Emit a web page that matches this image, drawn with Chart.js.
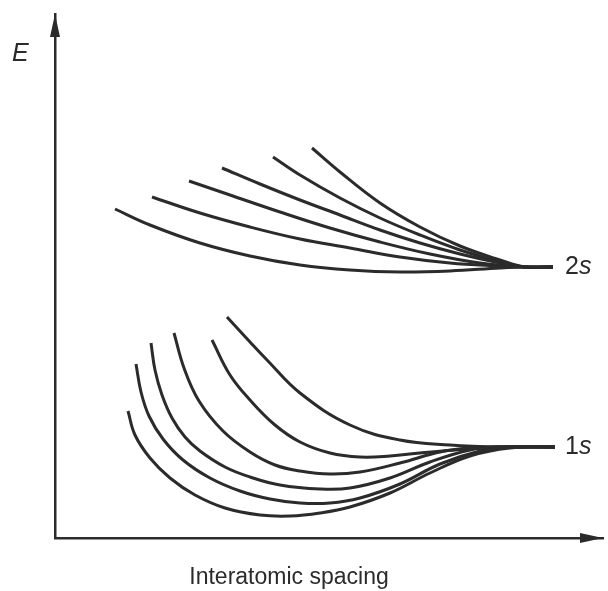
<!DOCTYPE html>
<html>
<head>
<meta charset="utf-8">
<script src="https://cdn.jsdelivr.net/npm/chart.js@4/dist/chart.umd.min.js"></script>
<style>
  body { margin: 0; background: #fff; }
  canvas { display: block; }
</style>
</head>
<body>
<canvas id="chart" width="608" height="591"></canvas>
<script>
// spacing (x) and energy (y) in arbitrary units
const upper1 = [[60,329],[95,313],[145,295],[195,282],[245,273],[295,268],[345,266],[395,267],[445,270],[470,271],[498,271]];
const upper2 = [[97,341],[145,325],[195,311],[245,299],[295,290],[345,281],[395,275],[445,272],[470,271],[498,271]];
const upper3 = [[134,357],[175,343],[225,326],[275,310],[325,296],[375,284],[425,275],[470,271],[498,271]];
const upper4 = [[167,370],[205,354],[245,338],[285,323],[325,308],[365,295],[405,284],[445,275],[470,271],[498,271]];
const upper5 = [[218,381],[245,363],[285,340],[325,320],[365,303],[405,288],[445,276],[470,271],[498,271]];
const upper6 = [[257,390],[285,366],[325,335],[365,311],[405,292],[445,278],[470,271],[498,271]];

const lower1 = [[73,127],[80,103],[95,80],[115,60],[140,43],[170,30],[205,23],[235,22],[265,25],[295,31],[335,45],[375,65],[415,82],[455,90],[500,91]];
const lower2 = [[81,174],[86,146],[94,122],[108,99],[128,78],[155,60],[185,47],[215,39],[245,35],[275,35],[305,40],[345,54],[385,74],[425,87],[455,91],[500,91]];
const lower3 = [[96,195],[100,168],[107,143],[117,120],[130,101],[145,87],[170,71],[195,61],[225,53],[265,49],[295,50],[335,60],[375,76],[415,88],[445,91],[500,91]];
const lower4 = [[119,205],[129,170],[144,137],[168,107],[195,86],[220,73],[245,67],[275,64],[305,66],[345,75],[385,86],[415,90],[445,91],[500,91]];
const lower5 = [[157,198],[175,163],[195,138],[220,113],[245,96],[275,85],[305,81],[335,82],[365,85],[400,88],[445,91],[500,91]];
const lower6 = [[172,221],[195,196],[212,178],[245,145],[295,113],[345,98],[395,93],[445,91],[500,91]];

const curves = [upper1, upper2, upper3, upper4, upper5, upper6, lower1, lower2, lower3, lower4, lower5, lower6];
const levelLabels = [{text: '2', italic: 's', y: 271}, {text: '1', italic: 's', y: 91}];
const xTitle = 'Interatomic spacing';
const yTitle = 'E';

const ink = '#2b2b2b';

const decorations = {
  id: 'decorations',
  afterDraw(chart) {
    const ctx = chart.ctx;
    const xs = chart.scales.x;
    const ys = chart.scales.y;
    const left = xs.left, right = xs.right, top = ys.top, bottom = ys.bottom;
    ctx.save();
    ctx.fillStyle = ink;
    // arrow heads
    ctx.beginPath();
    ctx.moveTo(left, top);
    ctx.lineTo(left - 5, top + 23);
    ctx.lineTo(left + 5, top + 23);
    ctx.closePath();
    ctx.fill();
    ctx.beginPath();
    ctx.moveTo(right, bottom);
    ctx.lineTo(right - 23, bottom - 5);
    ctx.lineTo(right - 23, bottom + 5);
    ctx.closePath();
    ctx.fill();

    ctx.textBaseline = 'middle';
    ctx.font = 'italic 25px "Liberation Sans"';
    ctx.textAlign = 'left';
    ctx.fillText(yTitle, 12, 54);

    levelLabels.forEach(l => {
      const y = ys.getPixelForValue(l.y);
      ctx.font = '25px "Liberation Sans"';
      ctx.fillText(l.text, 565, y);
      const w = ctx.measureText(l.text).width;
      ctx.font = 'italic 25px "Liberation Sans"';
      ctx.fillText(l.italic, 565 + w, y);
    });

    ctx.font = '23px "Liberation Sans"';
    ctx.textAlign = 'center';
    ctx.fillText(xTitle, 289, 578);
    ctx.restore();
  }
};

new Chart(document.getElementById('chart'), {
  type: 'scatter',
  data: {
    datasets: curves.map((c, i) => ({
      label: `curve ${i + 1}`,
      data: c.map(([x, y]) => ({x, y})),
      showLine: true,
      borderColor: ink,
      borderWidth: 3,
      pointRadius: 0,
      tension: 0.4,
      fill: false
    }))
  },
  options: {
    responsive: false,
    animation: false,
    layout: { padding: { left: 55, right: 5, top: 14, bottom: 53 } },
    plugins: { legend: { display: false }, tooltip: { enabled: false } },
    scales: {
      x: {
        type: 'linear', min: 0, max: 548,
        grid: { display: false, drawTicks: false },
        ticks: { display: false },
        border: { display: true, color: ink, width: 2.5 }
      },
      y: {
        type: 'linear', min: 0, max: 524,
        grid: { display: false, drawTicks: false },
        ticks: { display: false },
        border: { display: true, color: ink, width: 2.5 }
      }
    }
  },
  plugins: [decorations]
});
</script>
</body>
</html>
